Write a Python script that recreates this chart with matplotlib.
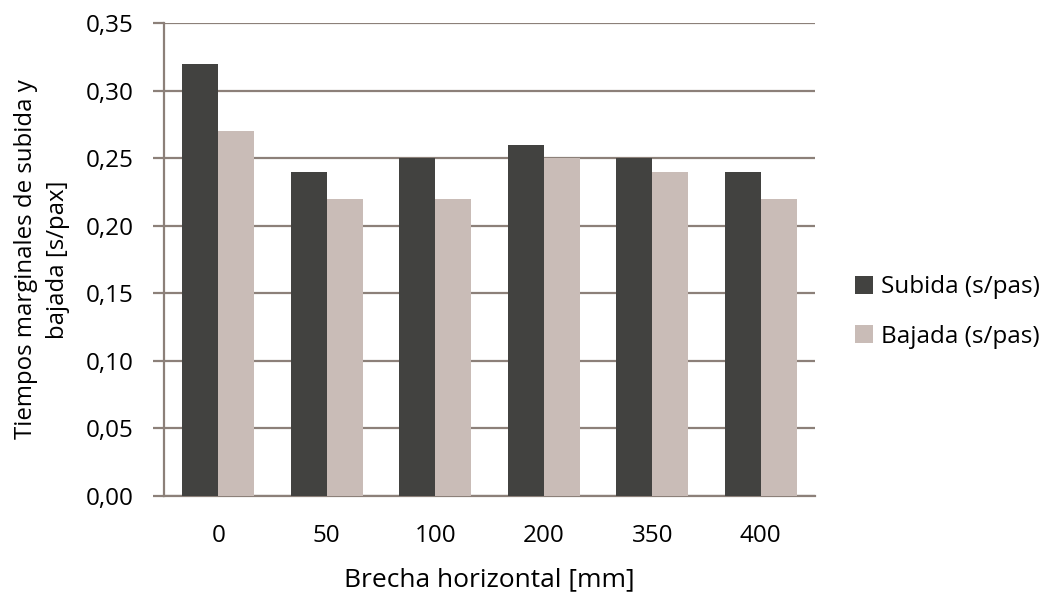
import numpy as np
import matplotlib
matplotlib.use("Agg")
import matplotlib.pyplot as plt
from matplotlib.ticker import FuncFormatter

plt.rcParams["font.family"] = ["Open Sans", "DejaVu Sans"]

# --- Datos --------------------------------------------------------------
brechas = ["0", "50", "100", "200", "350", "400"]
subida = [0.32, 0.24, 0.25, 0.26, 0.25, 0.24]
bajada = [0.27, 0.22, 0.22, 0.25, 0.24, 0.22]

COL_SUB = "#424240"
COL_BAJ = "#c9bcb7"
COL_EJE = "#8c8079"

fig = plt.figure(figsize=(10.46, 5.92), dpi=100)
ax = fig.add_axes([0.1568, 0.1622, 0.6224, 0.7989])

x = np.arange(len(brechas))
w = 0.333
ax.bar(x - w/2, subida, w, color=COL_SUB, label="Subida (s/pas)", zorder=3)
ax.bar(x + w/2, bajada, w, color=COL_BAJ, label="Bajada (s/pas)", zorder=3)

ax.set_xlim(-0.5, len(brechas) - 0.5)
ax.set_ylim(0, 0.35)
ax.set_yticks(np.arange(0, 0.351, 0.05))
ax.yaxis.set_major_formatter(FuncFormatter(lambda v, p: f"{v:.2f}".replace(".", ",")))
ax.set_xticks(x)
ax.set_xticklabels(brechas)

ax.grid(axis="y", color=COL_EJE, lw=1.6, zorder=0)
for s in ["top", "right"]:
    ax.spines[s].set_visible(False)
for s in ["left", "bottom"]:
    ax.spines[s].set_color(COL_EJE)
    ax.spines[s].set_linewidth(1.6)
ax.tick_params(axis="y", length=8, width=1.6, color=COL_EJE, labelsize=17.5, pad=14)
ax.tick_params(axis="x", length=0, labelsize=17.5, pad=20)

ax.set_xlabel("Brecha horizontal [mm]", fontsize=19, labelpad=14)
ax.set_ylabel("Tiempos marginales de subida y\nbajada [s/pax]", fontsize=17.3,
              labelpad=11, linespacing=1.45)

ax.legend(loc="center left", bbox_to_anchor=(1.061, 0.389), frameon=False,
          fontsize=17.5, handlelength=0.76, handleheight=0.76,
          handletextpad=0.3, labelspacing=1.05, borderpad=0, borderaxespad=0)

fig.savefig("out.png", dpi=100)
